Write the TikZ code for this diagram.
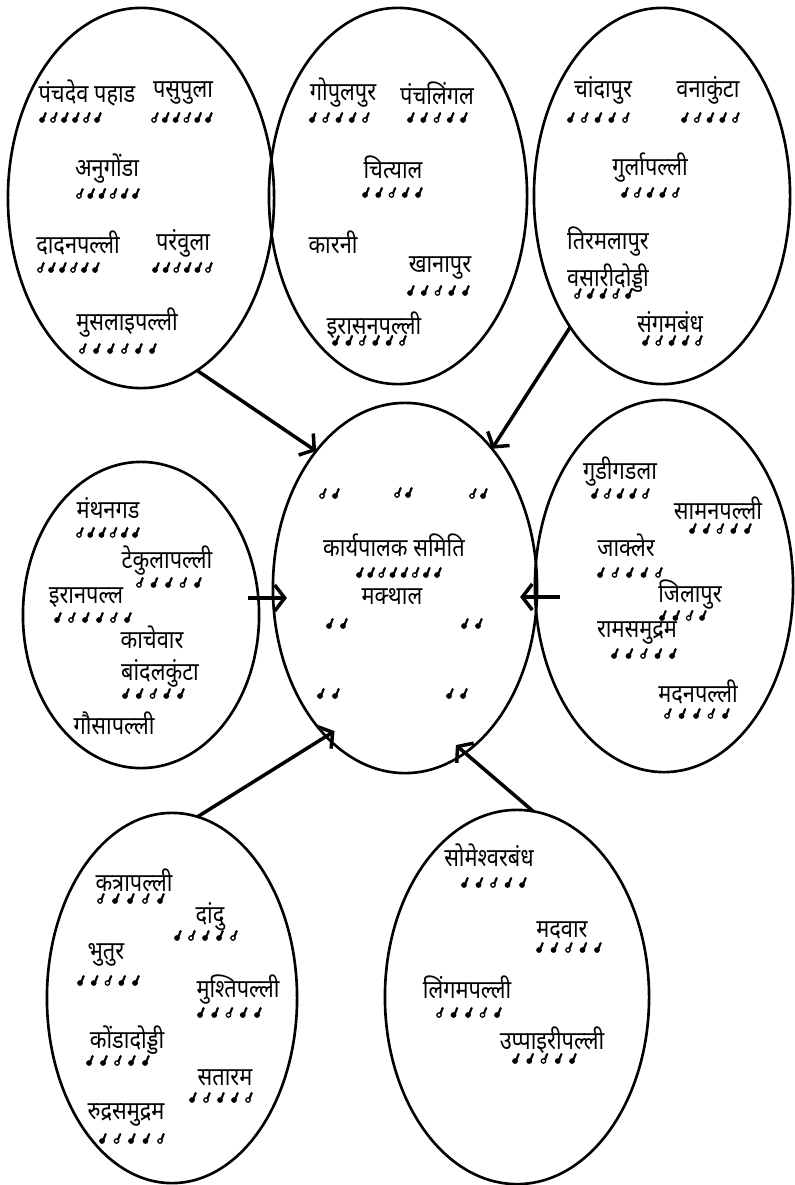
\documentclass[tikz,border=0pt]{standalone}
\usepackage{fontspec}
\newfontfamily\deva[Script=Devanagari, FakeStretch=0.86]{Noto Sans}
\usetikzlibrary{arrows.meta,shapes.geometric}

% one row of people symbols: x1, x2, y, count
\newcommand{\crowd}[4]{%
  \foreach \k in {1,...,#4}{
    \pgfmathsetmacro{\gx}{#1+2+(#2-#1-7)*(\k-1)/(#4-1)}
    \pgfmathtruncatemacro{\gk}{mod(\k*7+#1,3)}
    \ifnum\gk=0 \pic at (\gx,#3+3) {man=white};
    \else \pic at (\gx,#3+3) {man=black}; \fi
  }}

\tikzset{
  man/.pic={
    \draw[line width=0.35pt, fill=#1] (0,0) circle (2.2);
    \draw[line width=0.6pt] (1.5,-1.6) -- (3.6,-6.8);
    \fill (3.6,-6.8) circle (1.3);
  },
  cluster/.style={ellipse, draw, line width=0.75pt, inner sep=0pt, outer sep=0pt},
  lbl/.style={inner sep=0pt},
  arr/.style={-{Straight Barb[length=1mm,width=2.6mm]}, line width=1pt}
}

\begin{document}
\begin{tikzpicture}[
  x=0.01cm, y=-0.01cm,
  every node/.style={font=\deva\fontsize{7.2}{9}\selectfont}
]

\path[use as bounding box] (0,0) rectangle (794,1185);

% Clusters.
\node[cluster, minimum width=2.66cm, minimum height=3.80cm] (nw) at (141,198) {};
\node[cluster, minimum width=2.58cm, minimum height=3.76cm] (n)  at (398,196) {};
\node[cluster, minimum width=2.56cm, minimum height=3.76cm] (ne) at (662,196) {};
\node[cluster, minimum width=2.36cm, minimum height=3.06cm] (w)  at (141,615) {};
\node[cluster, minimum width=2.64cm, minimum height=3.70cm] (mk) at (405,588) {};
\node[cluster, minimum width=2.58cm, minimum height=3.72cm] (e)  at (664,586) {};
\node[cluster, minimum width=2.50cm, minimum height=3.70cm] (sw) at (172,998) {};
\node[cluster, minimum width=2.64cm, minimum height=3.74cm] (se) at (517,997) {};

% Top left group.
\node[lbl] (pancdev) at (87,93)  {पंचदेव पहाड};
\node[lbl] (pasup)   at (183,93) {पसुपुला};
\node[lbl] (anug)    at (107,169) {अनुगोंडा};
\node[lbl] (dadan)   at (78,243) {दादनपल्ली};
\node[lbl] (paramv)  at (183,243) {परंवुला};
\node[lbl] (musal)   at (127,323) {मुसलाइपल्ली};
\crowd{40}{102}{117}{6} \crowd{152}{213}{117}{6}
\crowd{77}{140}{193}{6}
\crowd{38}{100}{267}{6} \crowd{153}{213}{267}{6}
\crowd{80}{157}{348}{6}

% Top middle group.
\node[lbl] (gopul)   at (343,93)  {गोपुलपुर};
\node[lbl] (panchl)  at (437,93)  {पंचलिंगल};
\node[lbl] (chity)   at (393,167) {चित्याल};
\node[lbl] (karni)   at (333,242) {कारनी};
\node[lbl] (khana)   at (440,268) {खानापुर};
\node[lbl] (irasan)  at (374,325) {इरासनपल्ली};
\crowd{310}{370}{117}{5} \crowd{408}{468}{117}{5}
\crowd{363}{423}{192}{5}
\crowd{408}{470}{290}{5}
\crowd{333}{407}{340}{6}

% Top right group.
\node[lbl] (chanda)  at (603,90)  {चांदापुर};
\node[lbl] (vanak)   at (708,90)  {वनाकुंटा};
\node[lbl] (gurla)   at (650,168) {गुर्लापल्ली};
\node[lbl] (tirmal)  at (608,242) {तिरमलापुर};
\node[lbl] (vasari)  at (608,278) {वसारीदोड्डी};
\node[lbl] (sangam)  at (670,322) {संगमबंध};
\crowd{568}{630}{117}{5} \crowd{682}{740}{117}{5}
\crowd{622}{680}{192}{5}
\crowd{575}{633}{293}{5}
\crowd{643}{703}{340}{5}

% Middle left group.
\node[lbl] (manth)   at (108,508) {मंथनगड};
\node[lbl] (tekul)   at (167,561) {टेकुलापल्ली};
\node[lbl] (iran)    at (86,598)  {इरानपल्ल};
\node[lbl] (kachev)  at (152,637) {काचेवार};
\node[lbl] (bandal)  at (160,673) {बांदलकुंटा};
\node[lbl] (gausa)   at (114,723) {गौसापल्ली};
\crowd{77}{140}{532}{6}
\crowd{137}{202}{582}{5}
\crowd{55}{132}{617}{6}
\crowd{123}{185}{693}{5}

% Executive committee.
\node[lbl] (samiti)  at (394,545) {कार्यपालक समिति};
\node[lbl] (makth)   at (392,597) {मक्थाल};
\crowd{320}{340}{493}{2} \crowd{395}{413}{492}{2} \crowd{470}{488}{493}{2}
\crowd{357}{442}{572}{8}
\crowd{327}{348}{623}{2} \crowd{462}{483}{623}{2}
\crowd{318}{340}{693}{2} \crowd{447}{468}{693}{2}

% Middle right group.
\node[lbl] (gudig)   at (620,472) {गुडीगडला};
\node[lbl] (saman)   at (718,508) {सामनपल्ली};
\node[lbl] (jakler)  at (626,545) {जाक्लेर};
\node[lbl] (jila)    at (690,595) {जिलापुर};
\node[lbl] (ramsam)  at (637,633) {रामसमुद्रम};
\node[lbl] (madan)   at (698,692) {मदनपल्ली};
\crowd{592}{650}{493}{5}
\crowd{690}{752}{528}{5}
\crowd{598}{663}{572}{5}
\crowd{660}{707}{615}{4}
\crowd{612}{677}{653}{5}
\crowd{665}{730}{713}{5}

% Bottom left group.
\node[lbl] (katra)   at (134,880)  {कत्रापल्ली};
\node[lbl] (dandu)   at (210,917)  {दांदु};
\node[lbl] (bhutur)  at (106,955)  {भुतुर};
\node[lbl] (mushti)  at (238,990)  {मुश्तिपल्ली};
\node[lbl] (konda)   at (127,1040) {कोंडादोड्डी};
\node[lbl] (satar)   at (225,1078) {सतारम};
\node[lbl] (rudra)   at (126,1115) {रुद्रसमुद्रम};
\crowd{98}{165}{898}{5}
\crowd{175}{238}{935}{5}
\crowd{78}{140}{980}{5}
\crowd{198}{262}{1012}{5}
\crowd{87}{150}{1060}{5}
\crowd{190}{253}{1097}{5}
\crowd{100}{165}{1138}{5}

% Bottom right group.
\node[lbl] (somesh)  at (489,855)  {सोमेश्वरबंध};
\node[lbl] (madvar)  at (562,930)  {मदवार};
\node[lbl] (lingam)  at (467,987)  {लिंगमपल्ली};
\node[lbl] (uppai)   at (552,1040) {उप्पाइरीपल्ली};
\crowd{462}{527}{882}{5}
\crowd{537}{602}{947}{5}
\crowd{437}{502}{1012}{5}
\crowd{513}{577}{1058}{5}

% Arrows into the committee.
\draw[arr] (nw.288) -- (mk.123);
\draw[arr] (ne.235) -- (mk.58);
\draw[arr] ([shift={(-11,-17)}]w.east) -- ([shift={(14,10)}]mk.west);
\draw[arr] ([shift={(25,11)}]e.west) -- ([shift={(-17,9)}]mk.east);
\draw[arr, shorten >=-0.1cm] (sw.82) -- (mk.242);
\draw[arr, shorten >=-0.12cm] (se.85) -- (mk.290);

\end{tikzpicture}
\end{document}
